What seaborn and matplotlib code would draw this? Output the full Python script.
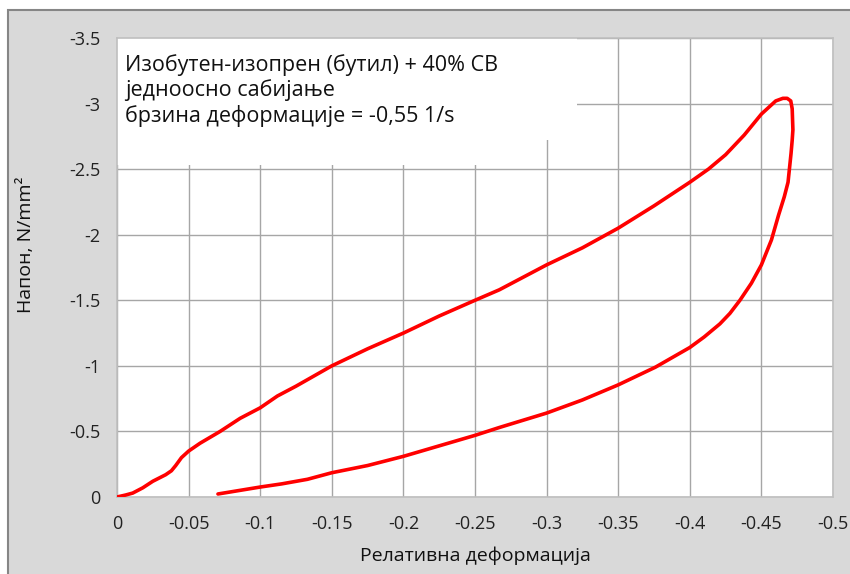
import pandas as pd
import matplotlib
import matplotlib.pyplot as plt
import seaborn as sns
from matplotlib.patches import Rectangle

# петља напон-деформација (оптерећење па растерећење)
strain = [0, -0.006, -0.011, -0.018, -0.025, -0.034, -0.038, -0.041, -0.045, -0.05,
          -0.058, -0.065, -0.072, -0.086, -0.1, -0.112, -0.125, -0.15, -0.175, -0.2,
          -0.225, -0.25, -0.267, -0.3, -0.325, -0.35, -0.375, -0.4, -0.413, -0.425,
          -0.438, -0.45, -0.455, -0.46, -0.465, -0.468, -0.4705, -0.4715, -0.472,
          -0.4715, -0.4707, -0.4686, -0.466, -0.462, -0.457, -0.45, -0.443, -0.435,
          -0.428, -0.421, -0.41, -0.4, -0.376, -0.35, -0.325, -0.3, -0.267, -0.25,
          -0.225, -0.2, -0.175, -0.15, -0.133, -0.115, -0.1, -0.08, -0.0705]
stress = [0, -0.015, -0.03, -0.07, -0.12, -0.17, -0.2, -0.24, -0.30, -0.35,
          -0.41, -0.455, -0.5, -0.6, -0.68, -0.77, -0.845, -1.0, -1.13, -1.25,
          -1.38, -1.5, -1.58, -1.77, -1.90, -2.05, -2.22, -2.40, -2.50, -2.61,
          -2.76, -2.92, -2.97, -3.02, -3.04, -3.04, -3.02, -2.96, -2.80,
          -2.72, -2.62, -2.40, -2.29, -2.15, -1.96, -1.77, -1.63, -1.5,
          -1.40, -1.32, -1.22, -1.14, -0.99, -0.855, -0.74, -0.64, -0.53, -0.47,
          -0.39, -0.31, -0.24, -0.185, -0.135, -0.1, -0.076, -0.04, -0.023]

x_ticks = [0, -0.05, -0.1, -0.15, -0.2, -0.25, -0.3, -0.35, -0.4, -0.45, -0.5]
x_labels = ['0', '-0.05', '-0.1', '-0.15', '-0.2', '-0.25', '-0.3', '-0.35', '-0.4', '-0.45', '-0.5']
y_ticks = [0, -0.5, -1, -1.5, -2, -2.5, -3, -3.5]
y_labels = ['0', '-0.5', '-1', '-1.5', '-2', '-2.5', '-3', '-3.5']

info_text = 'Изобутен-изопрен (бутил) + 40% СВ\nједноосно сабијање\nбрзина деформације = -0,55 1/s'

sns.set_style('white')
plt.rcParams['font.family'] = ['Open Sans', 'DejaVu Sans']

df = pd.DataFrame({'strain': strain, 'stress': stress})

fig = plt.figure(figsize=(8.5, 5.74), dpi=100)
# сива подлога графикона
fig.add_artist(Rectangle((8 / 850, -0.01), 1.0, 1 - 10 / 574 + 0.01, transform=fig.transFigure,
                         facecolor='#d9d9d9', edgecolor='#868686', lw=1.5, zorder=-10))
ax = fig.add_axes([117 / 850, 1 - 497 / 574, (833 - 117) / 850, (497 - 38) / 574])
ax.set_facecolor('white')

sns.lineplot(data=df, x='strain', y='stress', sort=False, estimator=None,
             color='#ff0000', lw=2.6, ax=ax, zorder=3)
for ln in ax.lines:
    ln.set_solid_joinstyle('round')
    ln.set_solid_capstyle('round')

ax.set_xlim(0, -0.5)
ax.set_ylim(0, -3.5)
ax.set_xticks(x_ticks)
ax.set_xticklabels(x_labels)
ax.set_yticks(y_ticks)
ax.set_yticklabels(y_labels)
ax.grid(True, color='#a6a6a6', lw=1.0)
ax.set_axisbelow(True)
for s in ax.spines.values():
    s.set_color('#bfbfbf')
    s.set_linewidth(1.2)
ax.tick_params(axis='y', length=4, color='#a6a6a6', pad=8, labelsize=13, labelcolor='#222222')
ax.tick_params(axis='x', length=0, pad=13, labelsize=13, labelcolor='#222222')

ax.set_xlabel('Релативна деформација', fontsize=14, labelpad=10, color='#111111')
ax.set_ylabel('Напон, N/mm²', fontsize=14, labelpad=14, color='#111111')
ax.yaxis.set_label_coords(-0.115, 0.55)

# бело поље иза текста
ax.add_patch(Rectangle((0, 0.7778), 0.6425, 0.2222, transform=ax.transAxes,
                       facecolor='white', edgecolor='none', zorder=1))
ax.add_patch(Rectangle((0, 0.7233), 0.55, 0.2767, transform=ax.transAxes,
                       facecolor='white', edgecolor='none', zorder=1))
ax.text(0.011, 0.965, info_text, transform=ax.transAxes, ha='left', va='top',
        fontsize=15.5, linespacing=1.2, color='#111111', zorder=2)

fig.savefig('out.png', dpi=100)
